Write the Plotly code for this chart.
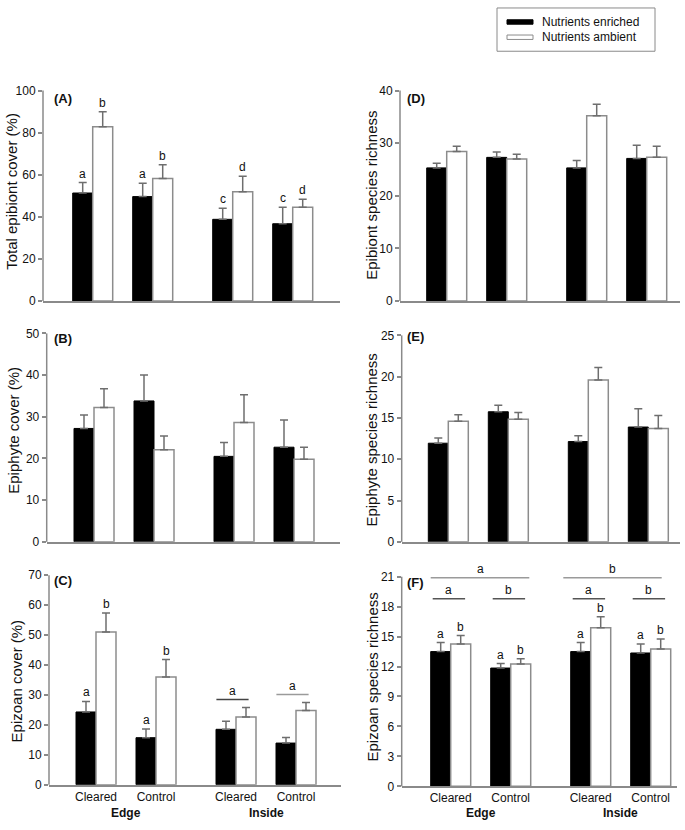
import plotly.graph_objects as go

W, H = 685, 830
FONT = "Liberation Sans, Arial, Helvetica, sans-serif"

# ---------------- data ----------------
series_names = ["Nutrients enriched", "Nutrients ambient"]
sites = ["Edge", "Inside"]
treatments = ["Cleared", "Control"]
# order of groups: Edge-Cleared, Edge-Control, Inside-Cleared, Inside-Control

A_enriched = [51.3, 49.6, 38.8, 36.7]
A_enriched_se = [5.0, 6.3, 5.3, 7.9]
A_ambient = [82.8, 58.2, 51.9, 44.5]
A_ambient_se = [7.1, 6.5, 7.4, 3.9]
A_letters_enriched = ["a", "a", "c", "c"]
A_letters_ambient = ["b", "b", "d", "d"]

B_enriched = [27.2, 33.8, 20.5, 22.7]
B_enriched_se = [3.2, 6.2, 3.3, 6.5]
B_ambient = [32.2, 22.1, 28.6, 19.8]
B_ambient_se = [4.5, 3.3, 6.7, 2.9]

C_enriched = [24.3, 15.7, 18.5, 13.9]
C_enriched_se = [3.5, 2.9, 2.7, 1.9]
C_ambient = [51.0, 36.0, 22.6, 24.8]
C_ambient_se = [6.4, 5.8, 3.2, 2.7]
C_letters_enriched = ["a", "a", None, None]
C_letters_ambient = ["b", "b", None, None]
C_group_letters = [None, None, "a", "a"]

D_enriched = [25.3, 27.3, 25.3, 27.1]
D_enriched_se = [0.9, 1.0, 1.4, 2.5]
D_ambient = [28.4, 27.0, 35.2, 27.3]
D_ambient_se = [1.0, 0.9, 2.2, 2.1]

E_enriched = [11.94, 15.75, 12.14, 13.9]
E_enriched_se = [0.64, 0.8, 0.72, 2.2]
E_ambient = [14.6, 14.84, 19.6, 13.73]
E_ambient_se = [0.8, 0.83, 1.5, 1.57]

F_enriched = [13.5, 11.85, 13.5, 13.36]
F_enriched_se = [0.9, 0.45, 0.9, 0.9]
F_ambient = [14.25, 12.25, 15.9, 13.76]
F_ambient_se = [0.85, 0.52, 1.1, 1.0]
F_letters_enriched = ["a", "a", "a", "a"]
F_letters_ambient = ["b", "b", "b", "b"]
F_group_letters = ["a", "b", "a", "b"]
F_site_letters = ["a", "b"]

titles = {
    "A": "Total epibiont cover (%)",
    "B": "Epiphyte cover (%)",
    "C": "Epizoan cover (%)",
    "D": "Epibiont species richness",
    "E": "Epiphyte species richness",
    "F": "Epizoan species richness",
}

panel_data = {
    "A": (A_enriched, A_enriched_se, A_ambient, A_ambient_se, A_letters_enriched, A_letters_ambient, None),
    "B": (B_enriched, B_enriched_se, B_ambient, B_ambient_se, None, None, None),
    "C": (C_enriched, C_enriched_se, C_ambient, C_ambient_se, C_letters_enriched, C_letters_ambient, C_group_letters),
    "D": (D_enriched, D_enriched_se, D_ambient, D_ambient_se, None, None, None),
    "E": (E_enriched, E_enriched_se, E_ambient, E_ambient_se, None, None, None),
    "F": (F_enriched, F_enriched_se, F_ambient, F_ambient_se, F_letters_enriched, F_letters_ambient, F_group_letters),
}

# ---------------- layout geometry (pixels) ----------------
UNIT = 20.0           # pixels per x unit (one bar width)
SITE_STEP, TRT_STEP = 7, 3
positions = [s * SITE_STEP + t * TRT_STEP for s in range(len(sites)) for t in range(len(treatments))]

geom = {
    "A": dict(left=43, right=340, top=85, bottom=299, c0=92.7, ymax=100, dtick=20, ext=100,
              tx=12, ty=188, lab=(52, 93), xlabels=False),
    "B": dict(left=46.7, right=340, top=332, bottom=544, c0=94, ymax=50, dtick=10, ext=50,
              tx=14, ty=431, lab=(52, 337), xlabels=False),
    "C": dict(left=49, right=341, top=578, bottom=791, c0=96, ymax=70, dtick=10, ext=70,
              tx=16, ty=686, lab=(52, 583), xlabels=True),
    "D": dict(left=400, right=680, top=85, bottom=299, c0=446.7, ymax=40, dtick=10, ext=40,
              tx=372, ty=192, lab=(405, 93), xlabels=False),
    "E": dict(left=401.7, right=680, top=334, bottom=544, c0=448.3, ymax=25, dtick=5, ext=25,
              tx=372, ty=441, lab=(405, 335), xlabels=False),
    "F": dict(left=401.7, right=677, top=579.5, bottom=792.7, c0=450.7, ymax=21, dtick=3, ext=22.6,
              tx=372, ty=682, lab=(405, 585), xlabels=True),
}

AXIS_COLOR = "#8a8a8a"
ERR_COLOR = "#6e6e6e"
EDGE_WHITE = "#8c8c8c"
TXT = "#111111"
TITLE_SIZE = 15


def px(x):
    return x / W


def py(y):
    return 1 - y / H


fig = go.Figure()
layout = dict(
    width=W, height=H, margin=dict(l=0, r=0, t=0, b=0),
    paper_bgcolor="white", plot_bgcolor="white",
    showlegend=False, barmode="overlay",
    font=dict(family=FONT, size=12, color=TXT),
)
shapes, annos = [], []

for i, key in enumerate(["A", "B", "C", "D", "E", "F"]):
    g = geom[key]
    en, en_se, am, am_se, let_en, let_am, grp_let = panel_data[key]
    sfx = "" if i == 0 else str(i + 1)
    xa, ya = "x" + sfx, "y" + sfx
    ppu = (g["bottom"] - g["top"]) / g["ymax"]
    dom_top = g["bottom"] - g["ext"] * ppu

    layout["xaxis" + sfx] = dict(
        domain=[px(g["left"]), px(g["right"])],
        range=[(g["left"] - g["c0"]) / UNIT, (g["right"] - g["c0"]) / UNIT],
        anchor=ya, showgrid=False, zeroline=False,
        showline=True, linecolor=AXIS_COLOR, linewidth=1.5,
        ticks="", tickvals=positions,
        ticktext=[t for _ in sites for t in treatments],
        showticklabels=g["xlabels"], tickfont=dict(size=12, color=TXT),
    )
    layout["yaxis" + sfx] = dict(
        domain=[py(g["bottom"]), py(dom_top)],
        range=[0, g["ext"]], anchor=xa, showgrid=False, zeroline=False,
        showline=False, ticks="outside", ticklen=4, tickwidth=1.5, tickcolor=AXIS_COLOR,
        tickvals=list(range(0, g["ymax"] + 1, g["dtick"])),
        tickfont=dict(size=12, color=TXT),
    )
    # y axis line up to the last tick
    shapes.append(dict(type="line", xref="paper", yref="paper",
                       x0=px(g["left"]), x1=px(g["left"]),
                       y0=py(g["bottom"]), y1=py(g["top"]),
                       line=dict(color=AXIS_COLOR, width=1.5)))

    fig.add_trace(go.Bar(
        x=positions, y=en, width=1, offset=-1, name=series_names[0],
        marker=dict(color="black", line=dict(color="black", width=1)),
        error_y=dict(type="data", array=en_se, arrayminus=[0] * len(en), symmetric=False,
                     color=ERR_COLOR, thickness=1.5, width=4),
        xaxis=xa, yaxis=ya))
    fig.add_trace(go.Bar(
        x=positions, y=am, width=1, offset=0, name=series_names[1],
        marker=dict(color="white", line=dict(color=EDGE_WHITE, width=1.5)),
        error_y=dict(type="data", array=am_se, arrayminus=[0] * len(am), symmetric=False,
                     color=ERR_COLOR, thickness=1.5, width=4),
        xaxis=xa, yaxis=ya))

    # per-bar letters
    for j, p in enumerate(positions):
        if let_en and let_en[j]:
            annos.append(dict(x=p - 0.5, y=en[j] + en_se[j], xref=xa, yref=ya, text=let_en[j],
                              showarrow=False, yanchor="bottom", font=dict(size=12, color=TXT)))
        if let_am and let_am[j]:
            annos.append(dict(x=p + 0.5, y=am[j] + am_se[j], xref=xa, yref=ya, text=let_am[j],
                              showarrow=False, yanchor="bottom", font=dict(size=12, color=TXT)))

    # panel label
    annos.append(dict(x=px(g["lab"][0]), y=py(g["lab"][1]), xref="paper", yref="paper",
                      text="<b>(%s)</b>" % key, showarrow=False, xanchor="left", yanchor="middle",
                      font=dict(size=13, color=TXT)))
    # y title
    annos.append(dict(x=px(g["tx"]), y=py(g["ty"]), xref="paper", yref="paper",
                      text=titles[key], textangle=-90, showarrow=False,
                      xanchor="center", yanchor="middle", font=dict(size=TITLE_SIZE, color=TXT)))

    # group-level significance lines
    if key == "C":
        cols = [None, None, "#444444", "#9a9a9a"]
        for j, p in enumerate(positions):
            if grp_let[j]:
                yl = max(en[j] + en_se[j], am[j] + am_se[j]) + 8 / ppu
                x0, x1 = p - 0.98, p + 0.63
                shapes.append(dict(type="line", xref=xa, yref=ya, x0=x0, x1=x1, y0=yl, y1=yl,
                                   line=dict(color=cols[j], width=1.5)))
                annos.append(dict(x=(x0 + x1) / 2, y=yl, xref=xa, yref=ya, text=grp_let[j],
                                  showarrow=False, yanchor="bottom", font=dict(size=12, color=TXT)))
    if key == "F":
        level2, level1 = 18.8, 20.9
        for j, p in enumerate(positions):
            x0, x1 = p - 0.9, p + 0.72
            shapes.append(dict(type="line", xref=xa, yref=ya, x0=x0, x1=x1, y0=level2, y1=level2,
                               line=dict(color="#555555", width=1.5)))
            annos.append(dict(x=(x0 + x1) / 2, y=level2, xref=xa, yref=ya, text=grp_let[j],
                              showarrow=False, yanchor="bottom", font=dict(size=12, color=TXT)))
        site_ext = [(-1.0, 0.93), (-1.37, 0.55)]
        for s in range(len(sites)):
            ps = positions[s * len(treatments):(s + 1) * len(treatments)]
            x0, x1 = min(ps) + site_ext[s][0], max(ps) + site_ext[s][1]
            shapes.append(dict(type="line", xref=xa, yref=ya, x0=x0, x1=x1, y0=level1, y1=level1,
                               line=dict(color="#9a9a9a", width=1.5)))
            annos.append(dict(x=(x0 + x1) / 2, y=level1, xref=xa, yref=ya, text=F_site_letters[s],
                              showarrow=False, yanchor="bottom", font=dict(size=12, color=TXT)))

    # site labels under the bottom panels
    if g["xlabels"]:
        for s, site in enumerate(sites):
            ps = positions[s * len(treatments):(s + 1) * len(treatments)]
            annos.append(dict(x=sum(ps) / len(ps), y=py(820), xref=xa, yref="paper",
                              text="<b>%s</b>" % site, showarrow=False, yanchor="middle",
                              font=dict(size=12, color=TXT)))

# ---------------- legend (drawn manually to get flat swatches) ----------------
shapes.append(dict(type="rect", xref="paper", yref="paper", x0=px(497), x1=px(655), y0=py(1), y1=py(45),
                   line=dict(color="#8a8a8a", width=1), fillcolor="white"))
shapes.append(dict(type="rect", xref="paper", yref="paper", x0=px(507), x1=px(533), y0=py(13), y1=py(17.5),
                   line=dict(color="black", width=1), fillcolor="black"))
shapes.append(dict(type="rect", xref="paper", yref="paper", x0=px(507), x1=px(533), y0=py(28.5), y1=py(33),
                   line=dict(color=EDGE_WHITE, width=1), fillcolor="white"))
for k, yy in enumerate([15, 31]):
    annos.append(dict(x=px(540), y=py(yy), xref="paper", yref="paper", text=series_names[k],
                      showarrow=False, xanchor="left", yanchor="middle", font=dict(size=12, color=TXT)))

layout["shapes"] = shapes
layout["annotations"] = annos
fig.update_layout(**layout)
fig.write_html("out.html", config={"displayModeBar": False},
               post_script="document.body.style.margin='0';")
